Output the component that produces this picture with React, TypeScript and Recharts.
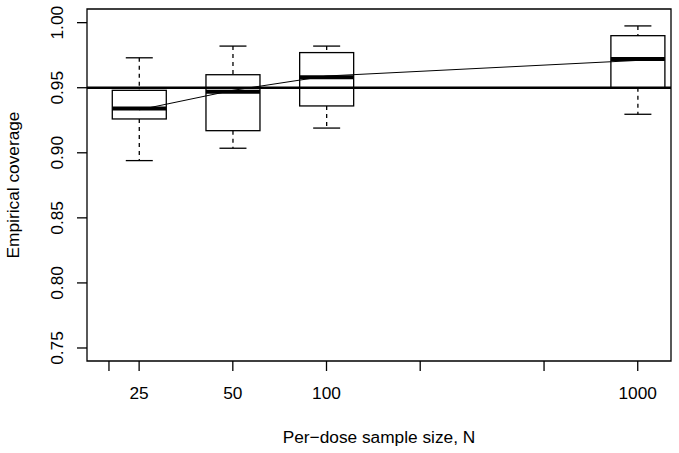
import React from 'react'
import { ComposedChart, Bar, Line, XAxis, YAxis, ReferenceLine, ReferenceArea } from 'recharts'

// per-dose sample sizes (log x axis)
const sizes = [25, 50, 100, 1000]
const whiskerLow = [0.894, 0.9035, 0.919, 0.9296]
const lowerQuartile = [0.926, 0.917, 0.936, 0.95]
const medians = [0.934, 0.947, 0.958, 0.972]
const upperQuartile = [0.948, 0.96, 0.977, 0.99]
const whiskerHigh = [0.973, 0.982, 0.982, 0.9975]
const means = [0.933, 0.948, 0.959, 0.971]

const xTicks = [20, 25, 50, 100, 200, 500, 1000]
const xLabels = [25, 50, 100, 1000]
const yTicks = [0.75, 0.8, 0.85, 0.9, 0.95, 1.0]
const nominal = 0.95

const FONT = '"Liberation Sans", Arial, Helvetica, sans-serif'
const FS = 17.3

const data = sizes.map((n, i) => ({
  n,
  lo: whiskerLow[i],
  q1: lowerQuartile[i],
  med: medians[i],
  q3: upperQuartile[i],
  hi: whiskerHigh[i],
  mean: means[i],
  range: [whiskerLow[i], whiskerHigh[i]],
}))

// one bar spans the whole whisker range; inner stats are placed linearly inside it
const BoxShape = (props: any) => {
  const { x, y, width, height, payload } = props
  if (x == null || !payload) return null
  const py = (v: number) => y + (height * (payload.hi - v)) / (payload.hi - payload.lo)
  const cx = x + width / 2
  const cap = width / 4
  return (
    <g>
      <line x1={cx} x2={cx} y1={py(payload.hi)} y2={py(payload.q3)} stroke="#000" strokeWidth={1.3} strokeDasharray="4 4" />
      <line x1={cx} x2={cx} y1={py(payload.q1)} y2={py(payload.lo)} stroke="#000" strokeWidth={1.3} strokeDasharray="4 4" />
      <line x1={cx - cap} x2={cx + cap} y1={py(payload.hi)} y2={py(payload.hi)} stroke="#000" strokeWidth={1.3} />
      <line x1={cx - cap} x2={cx + cap} y1={py(payload.lo)} y2={py(payload.lo)} stroke="#000" strokeWidth={1.3} />
      <rect x={x} y={py(payload.q3)} width={width} height={py(payload.q1) - py(payload.q3)} fill="none" stroke="#000" strokeWidth={1.3} />
      <line x1={x} x2={x + width} y1={py(payload.med)} y2={py(payload.med)} stroke="#000" strokeWidth={4} />
    </g>
  )
}

const XTick = (props: any) => {
  const { x, y, payload } = props
  if (!xLabels.includes(payload.value)) return null
  return (
    <text x={x} y={y} dy="0.71em" textAnchor="middle" fill="#000" fontSize={FS} fontFamily={FONT}>
      {payload.value}
    </text>
  )
}

const YTick = (props: any) => {
  const { x, y, payload } = props
  return (
    <text x={x} y={y} transform={`rotate(-90 ${x} ${y})`} textAnchor="middle" fill="#000" fontSize={FS} fontFamily={FONT}>
      {Number(payload.value).toFixed(2)}
    </text>
  )
}

export default function App() {
  return (
    <div style={{ position: 'absolute', left: 0, top: 0, width: 679, height: 453, background: '#fff' }}>
      <ComposedChart width={679} height={453} data={data} margin={{ top: 9, right: 8, bottom: 0, left: 0 }}>
        <XAxis
          dataKey="n"
          type="number"
          scale="log"
          domain={[17, 1279]}
          allowDataOverflow
          ticks={xTicks}
          axisLine={false}
          tickLine={{ stroke: '#000', strokeWidth: 1.3 }}
          tickSize={10}
          tickMargin={16}
          tick={<XTick />}
          height={92}
          interval={0}
          label={{
            content: ({ viewBox }: any) => (
              <text x={viewBox.x + viewBox.width / 2} y={viewBox.y + 82} textAnchor="middle" fill="#000" fontSize={FS} fontFamily={FONT}>
                Per−dose sample size, N
              </text>
            ),
          }}
        />
        <YAxis
          type="number"
          domain={[0.74, 1.0105]}
          allowDataOverflow
          ticks={yTicks}
          axisLine={false}
          tickLine={{ stroke: '#000', strokeWidth: 1.3 }}
          tickSize={10}
          tickMargin={14}
          tick={<YTick />}
          width={87}
          interval={0}
          label={{
            content: ({ viewBox }: any) => {
              const lx = viewBox.x + 19
              const ly = viewBox.y + viewBox.height / 2
              return (
                <text x={lx} y={ly} transform={`rotate(-90 ${lx} ${ly})`} textAnchor="middle" fill="#000" fontSize={FS} fontFamily={FONT}>
                  Empirical coverage
                </text>
              )
            },
          }}
        />
        <ReferenceArea x1={17} x2={1279} y1={0.74} y2={1.0105} fill="none" stroke="#000" strokeWidth={1.3} ifOverflow="visible" />
        <Bar dataKey="range" barSize={54} shape={<BoxShape />} isAnimationActive={false} />
        <ReferenceLine y={nominal} stroke="#000" strokeWidth={2.6} />
        <Line dataKey="mean" stroke="#000" strokeWidth={1} dot={false} isAnimationActive={false} />
      </ComposedChart>
    </div>
  )
}
